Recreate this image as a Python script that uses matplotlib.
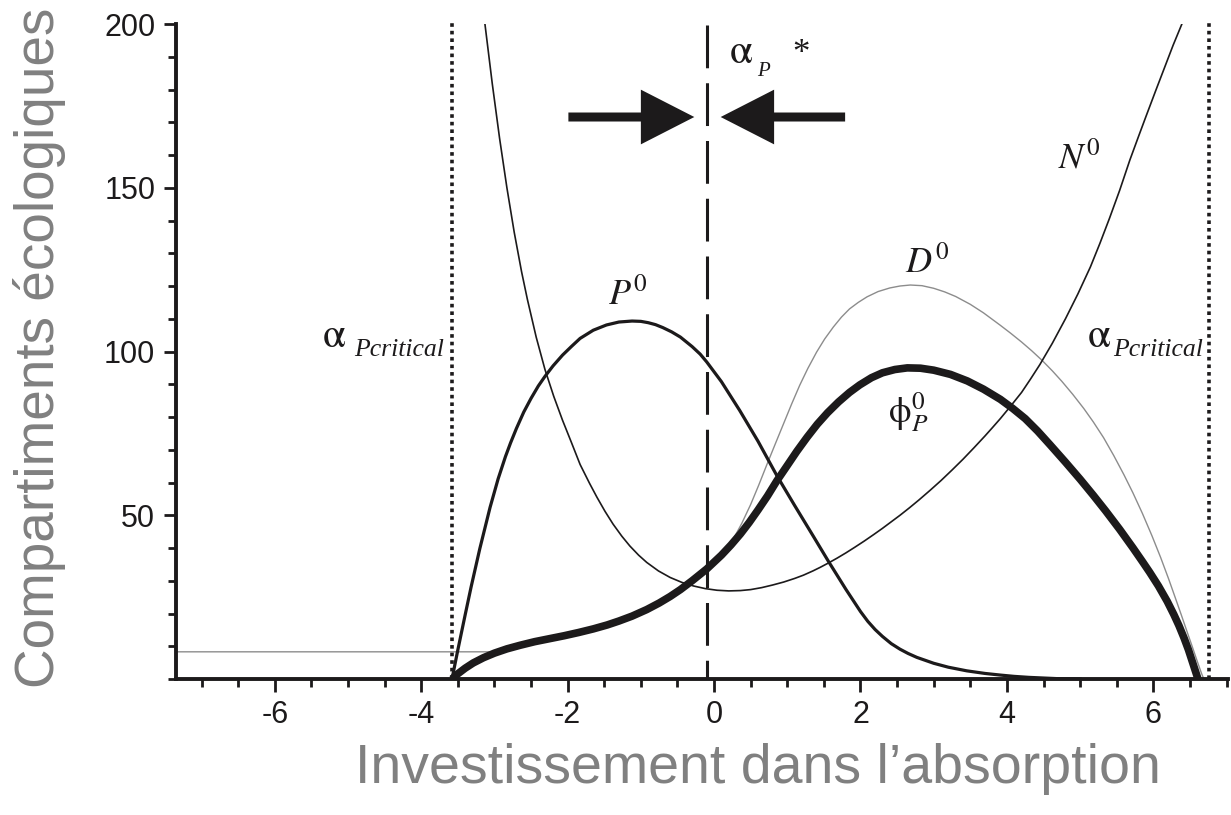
import matplotlib
matplotlib.use("Agg")
import matplotlib.pyplot as plt
from matplotlib.patches import FancyArrow
from matplotlib.ticker import MultipleLocator, FixedLocator

plt.rcParams['mathtext.fontset'] = 'stix'
plt.rcParams['axes.unicode_minus'] = False

# N0 : nutriments
n_x = [-3.13, -3.03, -2.93, -2.83, -2.73, -2.63, -2.55, -2.43, -2.31, -2.19,
       -2.07, -1.95, -1.83, -1.70, -1.60, -1.49, -1.38, -1.26, -1.15, -1.03,
       -0.92, -0.76, -0.60, -0.44, -0.28, -0.12, 0.04, 0.20, 0.36, 0.50,
       0.65, 0.80, 0.95, 1.10, 1.22, 1.35, 1.45, 1.56, 1.68, 1.80,
       1.92, 2.05, 2.18, 2.30, 2.42, 2.54, 2.67, 2.80, 2.95, 3.10,
       3.25, 3.40, 3.55, 3.70, 3.80, 3.91, 4.05, 4.20, 4.32, 4.45,
       4.62, 4.80, 4.97, 5.14, 5.27, 5.40, 5.54, 5.68, 5.80, 5.90,
       6.03, 6.15, 6.27, 6.39]
n_y = [200, 181.8, 165.1, 150.0, 136.4, 124.4, 115.9, 104.4, 94.5, 86.3,
       79.0, 72.3, 65.5, 59.7, 55.5, 51.2, 47.3, 43.6, 40.6, 37.8,
       35.6, 33.0, 31.0, 29.5, 28.4, 27.6, 27.1, 26.9, 27.0, 27.3,
       27.9, 28.7, 29.6, 30.7, 31.7, 33.0, 34.1, 35.4, 36.9, 38.5,
       40.2, 42.1, 44.1, 46.0, 48.0, 50.0, 52.3, 54.7, 57.6, 60.6,
       63.8, 67.1, 70.6, 74.2, 76.7, 79.5, 83.3, 87.5, 91.5, 96.0,
       102.5, 110.0, 117.6, 125.8, 133.0, 140.6, 149.2, 158.5, 165.8, 171.8,
       179.5, 186.5, 193.5, 200]

# P0 : plantes
p_x = [-3.58, -3.50, -3.40, -3.32, -3.20, -3.06, -2.95, -2.85, -2.78, -2.70,
       -2.60, -2.50, -2.40, -2.31, -2.20, -2.07, -1.95, -1.83, -1.65, -1.47,
       -1.30, -1.12, -1.00, -0.90, -0.80, -0.70, -0.58, -0.46, -0.30, -0.19,
       -0.10, 0.10, 0.35, 0.60, 0.86, 1.10, 1.35, 1.56, 1.80, 2.00,
       2.10, 2.20, 2.30, 2.42, 2.54, 2.65, 2.77, 3.00, 3.20, 3.45,
       3.70, 3.91, 4.10, 4.30, 4.50, 4.70, 5.00]
p_y = [0, 8.9, 19.6, 28.0, 39.8, 52.4, 61.1, 67.9, 72.1, 76.5,
       81.5, 85.7, 89.5, 92.4, 95.6, 98.9, 101.5, 104.0, 106.5, 108.1,
       109.0, 109.3, 109.2, 108.8, 108.2, 107.3, 106.0, 104.4, 101.5, 99.2,
       96.8, 90.8, 82.0, 72.6, 62.0, 53.0, 43.8, 36.0, 27.4, 20.6,
       17.6, 15.1, 13.0, 10.8, 9.1, 7.8, 6.6, 4.8, 3.6, 2.5,
       1.7, 1.2, 0.8, 0.5, 0.3, 0.1, 0]

# D0 : detritus
d_x = [-7.35, -2.95, -2.80, -2.65, -2.45, -2.25, -2.05, -1.85, -1.65, -1.46,
       -1.30, -1.12, -0.92, -0.75, -0.60, -0.46, -0.30, -0.10, 0.05, 0.16,
       0.26, 0.38, 0.50, 0.61, 0.72, 0.84, 0.95, 1.06, 1.17, 1.28,
       1.40, 1.51, 1.63, 1.74, 1.85, 1.97, 2.09, 2.24, 2.40, 2.54,
       2.68, 2.84, 3.00, 3.15, 3.30, 3.50, 3.68, 3.91, 4.05, 4.20,
       4.34, 4.48, 4.62, 4.75, 4.90, 5.05, 5.18, 5.32, 5.46, 5.60,
       5.72, 5.85, 5.98, 6.10, 6.21, 6.30, 6.38, 6.46, 6.53, 6.60,
       6.66, 6.69]
d_y = [8.3, 8.3, 9.6, 10.7, 11.8, 12.7, 13.6, 14.6, 15.7, 16.9,
       18.1, 19.6, 21.6, 23.6, 25.6, 27.8, 30.5, 34.3, 37.6, 40.0,
       42.6, 47.6, 53.3, 59.2, 65.4, 72.0, 78.0, 84.0, 89.7, 94.8,
       99.8, 103.8, 107.5, 110.5, 113.0, 115.0, 116.7, 118.3, 119.4, 120.0,
       120.3, 120.1, 119.3, 118.2, 116.8, 114.4, 111.8, 108.0, 105.6, 102.9,
       100.2, 97.3, 94.1, 90.9, 86.9, 82.6, 78.5, 73.7, 68.2, 62.3,
       56.9, 50.6, 43.8, 37.1, 30.5, 24.8, 19.7, 14.5, 10.0, 5.4,
       1.6, 0]

# phi_P0 : flux
f_x = [-3.58, -3.50, -3.40, -3.29, -3.15, -3.00, -2.83, -2.65, -2.45, -2.25,
       -2.05, -1.85, -1.65, -1.46, -1.30, -1.12, -0.92, -0.75, -0.60, -0.46,
       -0.30, -0.10, 0.10, 0.23, 0.36, 0.48, 0.60, 0.73, 0.86, 1.00,
       1.13, 1.27, 1.41, 1.55, 1.70, 1.85, 1.99, 2.15, 2.30, 2.47,
       2.64, 2.82, 3.00, 3.23, 3.46, 3.68, 3.91, 4.08, 4.25, 4.42,
       4.59, 4.80, 5.00, 5.18, 5.35, 5.54, 5.72, 5.85, 5.95, 6.07,
       6.19, 6.28, 6.35, 6.42, 6.48, 6.54, 6.61]
f_y = [0, 1.6, 3.3, 4.9, 6.5, 7.9, 9.2, 10.3, 11.4, 12.3,
       13.2, 14.2, 15.3, 16.5, 17.7, 19.2, 21.2, 23.2, 25.2, 27.3,
       30.0, 33.6, 37.8, 40.9, 44.3, 47.8, 51.6, 55.9, 60.6, 65.2,
       69.5, 73.8, 77.8, 81.3, 84.6, 87.5, 89.8, 92.0, 93.5, 94.5,
       95.0, 94.9, 94.3, 93.0, 91.0, 88.5, 85.4, 82.6, 79.5, 75.7,
       71.5, 66.2, 61.0, 56.1, 51.3, 45.7, 40.1, 35.9, 32.6, 28.4,
       23.7, 19.7, 16.3, 12.5, 8.9, 4.8, 0]

x_critical = [-3.58, 6.76]
x_star = -0.1
x_ticks = [-6, -4, -2, 0, 2, 4, 6]
y_ticks = [50, 100, 150, 200]

ink = '#1c1a1b'

fig = plt.figure(figsize=(12.31, 8.15), dpi=100)
ax = fig.add_axes([176 / 1231, 136 / 815, 1052 / 1231, 655 / 815])
ax.set_xlim(-7.35, 7.02)
ax.set_ylim(0, 200)

ax.plot(d_x, d_y, color='#8c8c8c', lw=1.0, solid_joinstyle='round')
ax.plot(n_x, n_y, color=ink, lw=1.2, solid_joinstyle='round')
ax.plot(p_x, p_y, color=ink, lw=2.3, solid_joinstyle='round')
ax.plot(f_x, f_y, color=ink, lw=5.5, solid_joinstyle='round', solid_capstyle='butt')

for xc in x_critical:
    ax.plot([xc, xc], [0, 200.5], color=ink, lw=2.6, ls=(0, (1, 1.1)), clip_on=False)
ax.plot([x_star, x_star], [199.7, 0], color=ink, lw=2.2, ls=(0, (14, 4.9)), clip_on=False)

# arrows converging to the ESS
arrow_kw = dict(width=2.75, head_width=16.7, head_length=0.73,
                length_includes_head=True, color=ink, lw=0)
ax.add_patch(FancyArrow(-1.99, 171.6, 1.72, 0, **arrow_kw))
ax.add_patch(FancyArrow(1.79, 171.6, -1.70, 0, **arrow_kw))

serif = 'Liberation Serif'
alpha = r'$\mathrm{\alpha}$'
for xa, xs in [(-5.36, -4.92), (5.10, 5.45)]:
    ax.text(xa, 101.3, alpha, fontsize=30, color=ink, ha='left', va='baseline')
    ax.text(xs, 98.6, 'Pcritical', fontsize=18.5, family=serif, style='italic',
            color=ink, ha='left', va='baseline')

ax.text(0.21, 188, alpha, fontsize=30, color=ink, ha='left', va='baseline')
ax.text(0.59, 184.0, 'P', fontsize=15, family=serif, style='italic', color=ink,
        ha='left', va='baseline')
ax.text(1.07, 188, '*', fontsize=25, family=serif, color=ink, ha='left', va='baseline')

ax.text(-1.45, 114.1, r'$P^{0}$', fontsize=26, color=ink, ha='left', va='baseline')
ax.text(2.61, 123.9, r'$D^{0}$', fontsize=26, color=ink, ha='left', va='baseline')
ax.text(4.70, 156, r'$N^{0}$', fontsize=26, color=ink, ha='left', va='baseline')
ax.text(2.38, 78.4, r'$\mathrm{\phi}_{P}^{0}$', fontsize=26, color=ink,
        ha='left', va='baseline')

for side in ['top', 'right']:
    ax.spines[side].set_visible(False)
for side in ['left', 'bottom']:
    ax.spines[side].set_linewidth(2.8)
    ax.spines[side].set_color(ink)

ax.xaxis.set_major_locator(FixedLocator(x_ticks))
ax.xaxis.set_minor_locator(MultipleLocator(0.5))
ax.yaxis.set_major_locator(FixedLocator(y_ticks))
ax.yaxis.set_minor_locator(MultipleLocator(10))
ax.tick_params(which='major', direction='out', length=9, width=2, color=ink,
               labelsize=22, labelcolor=ink, pad=6)
ax.tick_params(which='minor', direction='out', length=5.5, width=2, color=ink)
for lab in ax.get_xticklabels() + ax.get_yticklabels():
    lab.set_family('Liberation Sans')

fig.text(40 / 1231, 1 - 348 / 815, 'Compartiments écologiques', rotation=90,
         ha='center', va='center', fontsize=39.5, color='#808080', family='Liberation Sans')
fig.text(758 / 1231, 1 - 783 / 815, 'Investissement dans l\u2019absorption',
         ha='center', va='baseline', fontsize=40, color='#808080', family='Liberation Sans')

fig.savefig('out.png', dpi=100)
